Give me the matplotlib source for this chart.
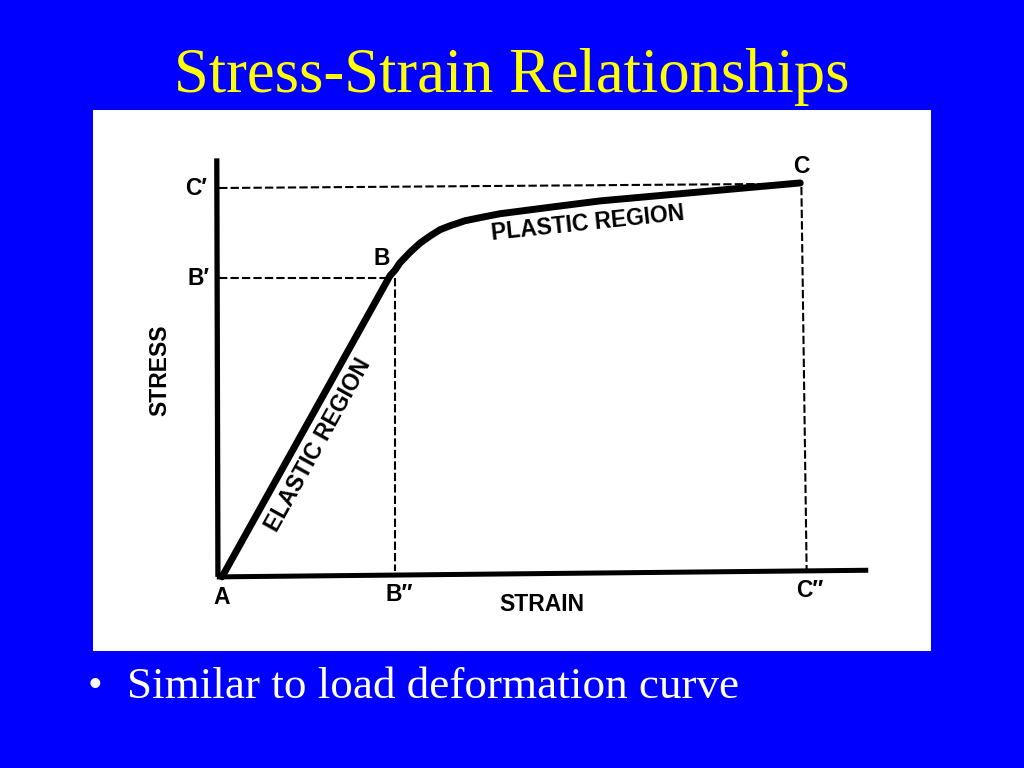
import matplotlib
matplotlib.use("Agg")
import matplotlib.pyplot as plt

# ---- data (strain, stress in relative units) ----
curve_strain = [0.0, 0.289, 0.298, 0.306, 0.324, 0.341, 0.358, 0.375, 0.392, 0.418,
                0.444, 0.478, 0.530, 0.582, 0.651, 0.823, 0.995]
curve_stress = [0.0, 0.772, 0.787, 0.805, 0.833, 0.856, 0.874, 0.890, 0.900, 0.913,
                0.921, 0.931, 0.941, 0.951, 0.964, 0.987, 1.010]

strain_B = 0.298
stress_B = 0.767
strain_C = 1.0
stress_C = 1.0

title_text = "Stress-Strain Relationships"
bullet_text = "Similar to load deformation curve"

BLUE = "#0000FF"
YELLOW = "#FFFF00"

fig = plt.figure(figsize=(10.24, 7.68), dpi=100, facecolor=BLUE)

fig.text(0.5, 0.900, title_text, ha="center", va="center", color=YELLOW,
         family="Liberation Serif", fontsize=45)
fig.text(0.086, 0.106, "\u2022", ha="left", va="center", color="white",
         family="Liberation Serif", fontsize=30)
fig.text(0.124, 0.106, bullet_text, ha="left", va="center", color="white",
         family="Liberation Serif", fontsize=32.5)

ax = fig.add_axes([93/1024, 1-651/768, (931-93)/1024, (651-110)/768])
ax.set_facecolor("white")
ax.set_xlim(-0.222, 1.220)
ax.set_ylim(-0.190, 1.197)
ax.set_xticks([])
ax.set_yticks([])
for s in ax.spines.values():
    s.set_visible(False)

# axes lines
ax.plot([-0.009, -0.007], [1.073, 0.0], color="black", lw=3.8, solid_capstyle="butt")
ax.plot([-0.009, 1.112], [0.0, 0.017], color="black", lw=3.6, solid_capstyle="butt")

# dashed guide lines
dash = dict(color="black", lw=1.5, dashes=(4, 1.5))
ax.plot([-0.005, strain_C - 0.005], [0.997, 1.008], **dash)
ax.plot([-0.005, strain_B - 0.005], [stress_B, stress_B], **dash)
ax.plot([strain_B, strain_B], [stress_B, 0.015], **dash)
ax.plot([strain_C - 0.003, strain_C + 0.006], [stress_C, 0.015], **dash)

# stress-strain curve
ax.plot(curve_strain, curve_stress, color="black", lw=5,
        solid_joinstyle="round", solid_capstyle="round")

lab = dict(family="Liberation Sans", fontsize=16.5, fontweight="bold", color="black",
           ha="center", va="center")
ax.text(-0.045, 0.997, "C\u2032", **lab)
ax.text(-0.040, 0.764, "B\u2032", **lab)
ax.text(0.275, 0.815, "B", **lab)
ax.text(0.997, 1.051, "C", **lab)
ax.text(0.0, -0.053, "A", **lab)
ax.text(0.305, -0.045, "B\u2033", **lab)
ax.text(1.012, -0.035, "C\u2033", **lab)
ax.text(0.551, -0.070, "STRAIN", **lab)
ax.text(-0.107, 0.531, "STRESS", rotation=90, **lab)
ax.text(0.165, 0.338, "ELASTIC REGION", rotation=61, **lab)
ax.text(0.630, 0.905, "PLASTIC REGION", rotation=6, **lab)

fig.savefig("out.png", dpi=100, facecolor=BLUE)
